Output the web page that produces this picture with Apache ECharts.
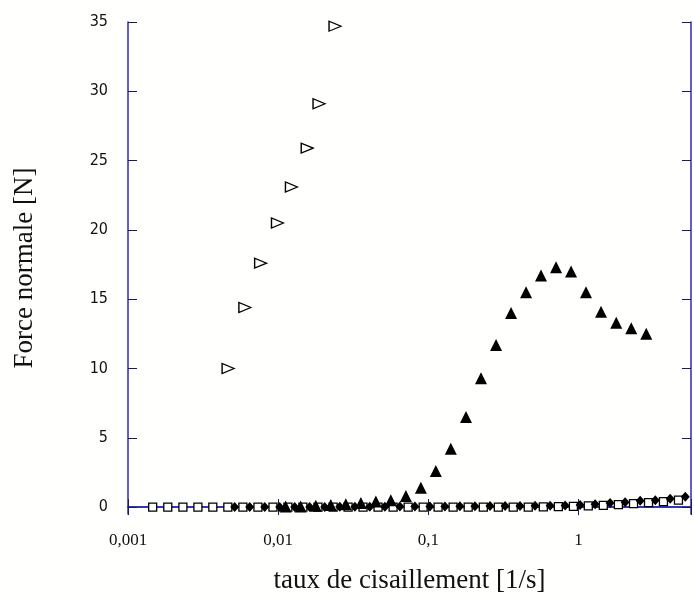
<!DOCTYPE html>
<html><head><meta charset="utf-8">
<script src="https://cdn.jsdelivr.net/npm/echarts@6/dist/echarts.min.js"></script>
<style>html,body{margin:0;padding:0;background:#fffffd}#c{width:694px;height:599px}</style>
</head><body><div id="c"></div>
<script>
const xTickValues = [0.001, 0.01, 0.1, 1];
const xTickLabels = ['0,001', '0,01', '0,1', '1'];
const yTickValues = [0, 5, 10, 15, 20, 25, 30, 35];

const openTriX = [0.00464, 0.0060, 0.00764, 0.00989, 0.01225, 0.0156, 0.0187, 0.0239];
const openTriY = [10.0, 14.4, 17.6, 20.5, 23.1, 25.9, 29.1, 34.7];

const fillTriX = [0.0112, 0.0141, 0.0178, 0.0224, 0.0282, 0.0355, 0.0447, 0.0562, 0.0708, 0.0891, 0.112, 0.141, 0.178, 0.224, 0.282, 0.355, 0.447, 0.562, 0.708, 0.891, 1.12, 1.41, 1.78, 2.24, 2.82];
const fillTriY = [0.05, 0.05, 0.1, 0.15, 0.2, 0.3, 0.4, 0.5, 0.8, 1.4, 2.6, 4.2, 6.5, 9.3, 11.7, 14.0, 15.5, 16.7, 17.3, 17.0, 15.5, 14.1, 13.3, 12.9, 12.5];

const squareX = [0.00146, 0.00184, 0.00232, 0.00292, 0.00367, 0.00462, 0.00582, 0.00733, 0.00923, 0.0116, 0.0146, 0.0184, 0.0232, 0.0292, 0.0367, 0.0462, 0.0582, 0.0733, 0.0923, 0.116, 0.146, 0.184, 0.232, 0.292, 0.367, 0.462, 0.582, 0.733, 0.923, 1.16, 1.46, 1.84, 2.32, 2.92, 3.67, 4.62];
const squareY = [0, 0, 0, 0, 0, 0, 0, 0, 0, 0, 0, 0, 0, 0, 0, 0, 0, 0, 0, 0, 0, 0, 0, 0, 0, 0, 0.02, 0.03, 0.05, 0.08, 0.12, 0.18, 0.25, 0.32, 0.4, 0.5];

const diamondX = [0.00513, 0.00646, 0.00813, 0.01023, 0.01288, 0.0162, 0.0204, 0.0257, 0.0324, 0.0407, 0.0513, 0.0646, 0.0813, 0.1023, 0.1288, 0.162, 0.204, 0.257, 0.324, 0.407, 0.513, 0.646, 0.813, 1.023, 1.288, 1.62, 2.04, 2.57, 3.24, 4.07, 5.13];
const diamondY = [0, 0, 0, 0, 0, 0, 0, 0.02, 0.02, 0.03, 0.03, 0.04, 0.04, 0.05, 0.05, 0.06, 0.06, 0.07, 0.08, 0.08, 0.1, 0.1, 0.12, 0.15, 0.2, 0.3, 0.35, 0.45, 0.5, 0.6, 0.75];

function pairs(xs, ys) { return xs.map((x, i) => [x, ys[i]]); }

const axisBlue = '#2a2ab0';
const tickCol = '#1a1a60';

const chart = echarts.init(document.getElementById('c'), null, {renderer: 'canvas'});
const xFmt = v => {
  const i = xTickValues.findIndex(t => Math.abs(Math.log10(t) - Math.log10(v)) < 0.01);
  return i >= 0 ? xTickLabels[i] : '';
};
chart.setOption({
  backgroundColor: '#fffffd',
  animation: false,
  grid: {left: 128, top: 22, right: -1, bottom: 83, containLabel: false},
  xAxis: [{
    type: 'log', logBase: 10, min: 0.001, max: 5.6, position: 'bottom',
    axisLine: {show: true, lineStyle: {color: axisBlue, width: 1.5}},
    axisTick: {show: true, inside: true, length: 8, lineStyle: {color: tickCol}},
    minorTick: {show: false},
    splitLine: {show: false},
    axisLabel: {formatter: xFmt, color: '#111', fontFamily: 'Liberation Serif', fontSize: 17, margin: 18},
    name: 'taux de cisaillement [1/s]', nameLocation: 'middle', nameGap: 53,
    nameTextStyle: {color: '#111', fontFamily: 'Liberation Serif', fontSize: 27}
  }, {
    type: 'log', logBase: 10, min: 0.001, max: 5.6, position: 'top',
    axisLine: {show: true, lineStyle: {color: axisBlue, width: 1.5}},
    axisTick: {show: true, inside: true, length: 8, lineStyle: {color: tickCol}},
    axisLabel: {show: false}, splitLine: {show: false}
  }],
  yAxis: [{
    type: 'value', min: -0.5, max: 35, position: 'left',
    axisLine: {show: true, lineStyle: {color: axisBlue, width: 1.5}},
    axisTick: {show: true, inside: true, length: 9, customValues: yTickValues, lineStyle: {color: tickCol}},
    axisLabel: {customValues: yTickValues, color: '#111', fontFamily: 'Liberation Sans Narrow, DejaVu Sans Condensed, sans-serif', fontSize: 16, margin: 20},
    splitLine: {show: false},
    name: 'Force normale [N]', nameLocation: 'middle', nameGap: 90, nameRotate: 90,
    nameTextStyle: {color: '#111', fontFamily: 'Liberation Serif', fontSize: 27}
  }, {
    type: 'value', min: -0.5, max: 35, position: 'right',
    axisLine: {show: true, lineStyle: {color: axisBlue, width: 1.5}},
    axisTick: {show: true, inside: true, length: 9, customValues: yTickValues, lineStyle: {color: tickCol}},
    axisLabel: {show: false}, splitLine: {show: false}
  }],
  series: [
    {type: 'scatter', data: pairs(squareX, squareY), symbol: 'rect', symbolSize: 8,
     itemStyle: {color: '#fffffd', borderColor: '#000', borderWidth: 1.3, opacity: 1}, z: 2},
    {type: 'scatter', data: pairs(diamondX, diamondY), symbol: 'diamond', symbolSize: [9, 10],
     itemStyle: {color: '#000', opacity: 1}, z: 3},
    {type: 'scatter', data: pairs(fillTriX, fillTriY), symbol: 'triangle', symbolSize: [12, 12],
     itemStyle: {color: '#000', opacity: 1}, z: 4},
    {type: 'scatter', data: pairs(openTriX, openTriY), symbol: 'triangle', symbolSize: [10, 12], symbolRotate: -90,
     itemStyle: {color: '#fffffd', borderColor: '#000', borderWidth: 1.3, opacity: 1}, z: 5}
  ]
});
</script></body></html>
